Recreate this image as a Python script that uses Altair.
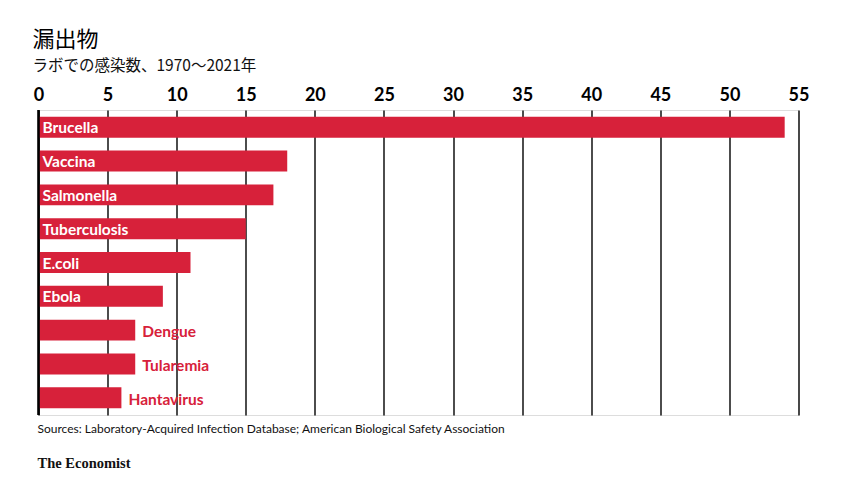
import altair as alt
import pandas as pd

diseases = ["Brucella", "Vaccina", "Salmonella", "Tuberculosis", "E.coli", "Ebola", "Dengue", "Tularemia", "Hantavirus"]
cases = [54, 18, 17, 15, 11, 9, 7, 7, 6]
tick_values = [0, 5, 10, 15, 20, 25, 30, 35, 40, 45, 50, 55]

title_text = "漏出物"
subtitle_text = "ラボでの感染数、1970～2021年"
source_text = "Sources: Laboratory-Acquired Infection Database; American Biological Safety Association"
brand_text = "The Economist"

RED = "#D7213A"
FONT = "Lato"

df = pd.DataFrame({"disease": diseases, "cases": cases})
df["inside"] = df["cases"] >= 8

W, H = 760, 305

x = alt.X("cases:Q",
          scale=alt.Scale(domain=[0, 55], nice=False),
          axis=alt.Axis(orient="top", values=tick_values, grid=True, gridColor="#000000",
                        gridWidth=1.4, domain=False, ticks=False, labelPadding=6,
                        labelFont=FONT, labelFontSize=18, labelFontWeight="bold",
                        labelColor="#000000", title=None, labelFlush=False))
y = alt.Y("disease:N", sort=diseases,
          scale=alt.Scale(paddingInner=0.38, paddingOuter=0.2),
          axis=None)

base = alt.Chart(df)

bars = base.mark_bar(color=RED).encode(x=x, y=y)

zero = alt.Chart(pd.DataFrame({"z": [0]})).mark_rule(color="#000000", strokeWidth=2.6).encode(x="z:Q")

lab_in = base.transform_filter("datum.inside").mark_text(
    align="left", baseline="middle", dx=4, dy=1, font=FONT, fontSize=15.5, fontWeight="bold", color="white"
).encode(x=alt.datum(0), y=y, text="disease:N")

lab_out = base.transform_filter("!datum.inside").mark_text(
    align="left", baseline="middle", dx=7, dy=2, font=FONT, fontSize=15.5, fontWeight="bold", color=RED
).encode(x="cases:Q", y=y, text="disease:N")

note = alt.Chart(pd.DataFrame({"t": [source_text]})).mark_text(
    align="left", baseline="middle", font=FONT, fontSize=12, color="#111111"
).encode(x=alt.value(-1), y=alt.value(H + 14), text="t:N")

brand = alt.Chart(pd.DataFrame({"t": [brand_text]})).mark_text(
    align="left", baseline="middle", font="Liberation Serif", fontSize=14.5, fontWeight="bold", color="#111111"
).encode(x=alt.value(-1), y=alt.value(H + 49), text="t:N")

chart = alt.layer(bars, zero, lab_in, lab_out, note, brand).properties(
    width=W, height=H,
    title=alt.TitleParams(text=title_text, subtitle=subtitle_text, anchor="start", frame="group",
                          dx=-6, offset=11, font="Noto Sans CJK JP", fontSize=22, fontWeight="normal",
                          color="#000000", subtitleFont="Noto Sans CJK JP", subtitleFontSize=15.5,
                          subtitleColor="#111111", subtitlePadding=7),
    autosize=alt.AutoSizeParams(type="none"),
    padding={"left": 30.5, "top": 102, "right": 30, "bottom": 70},
).configure_view(stroke=None).configure(background="white")

chart.save("out.html", embed_options={"renderer": "svg", "actions": False})
